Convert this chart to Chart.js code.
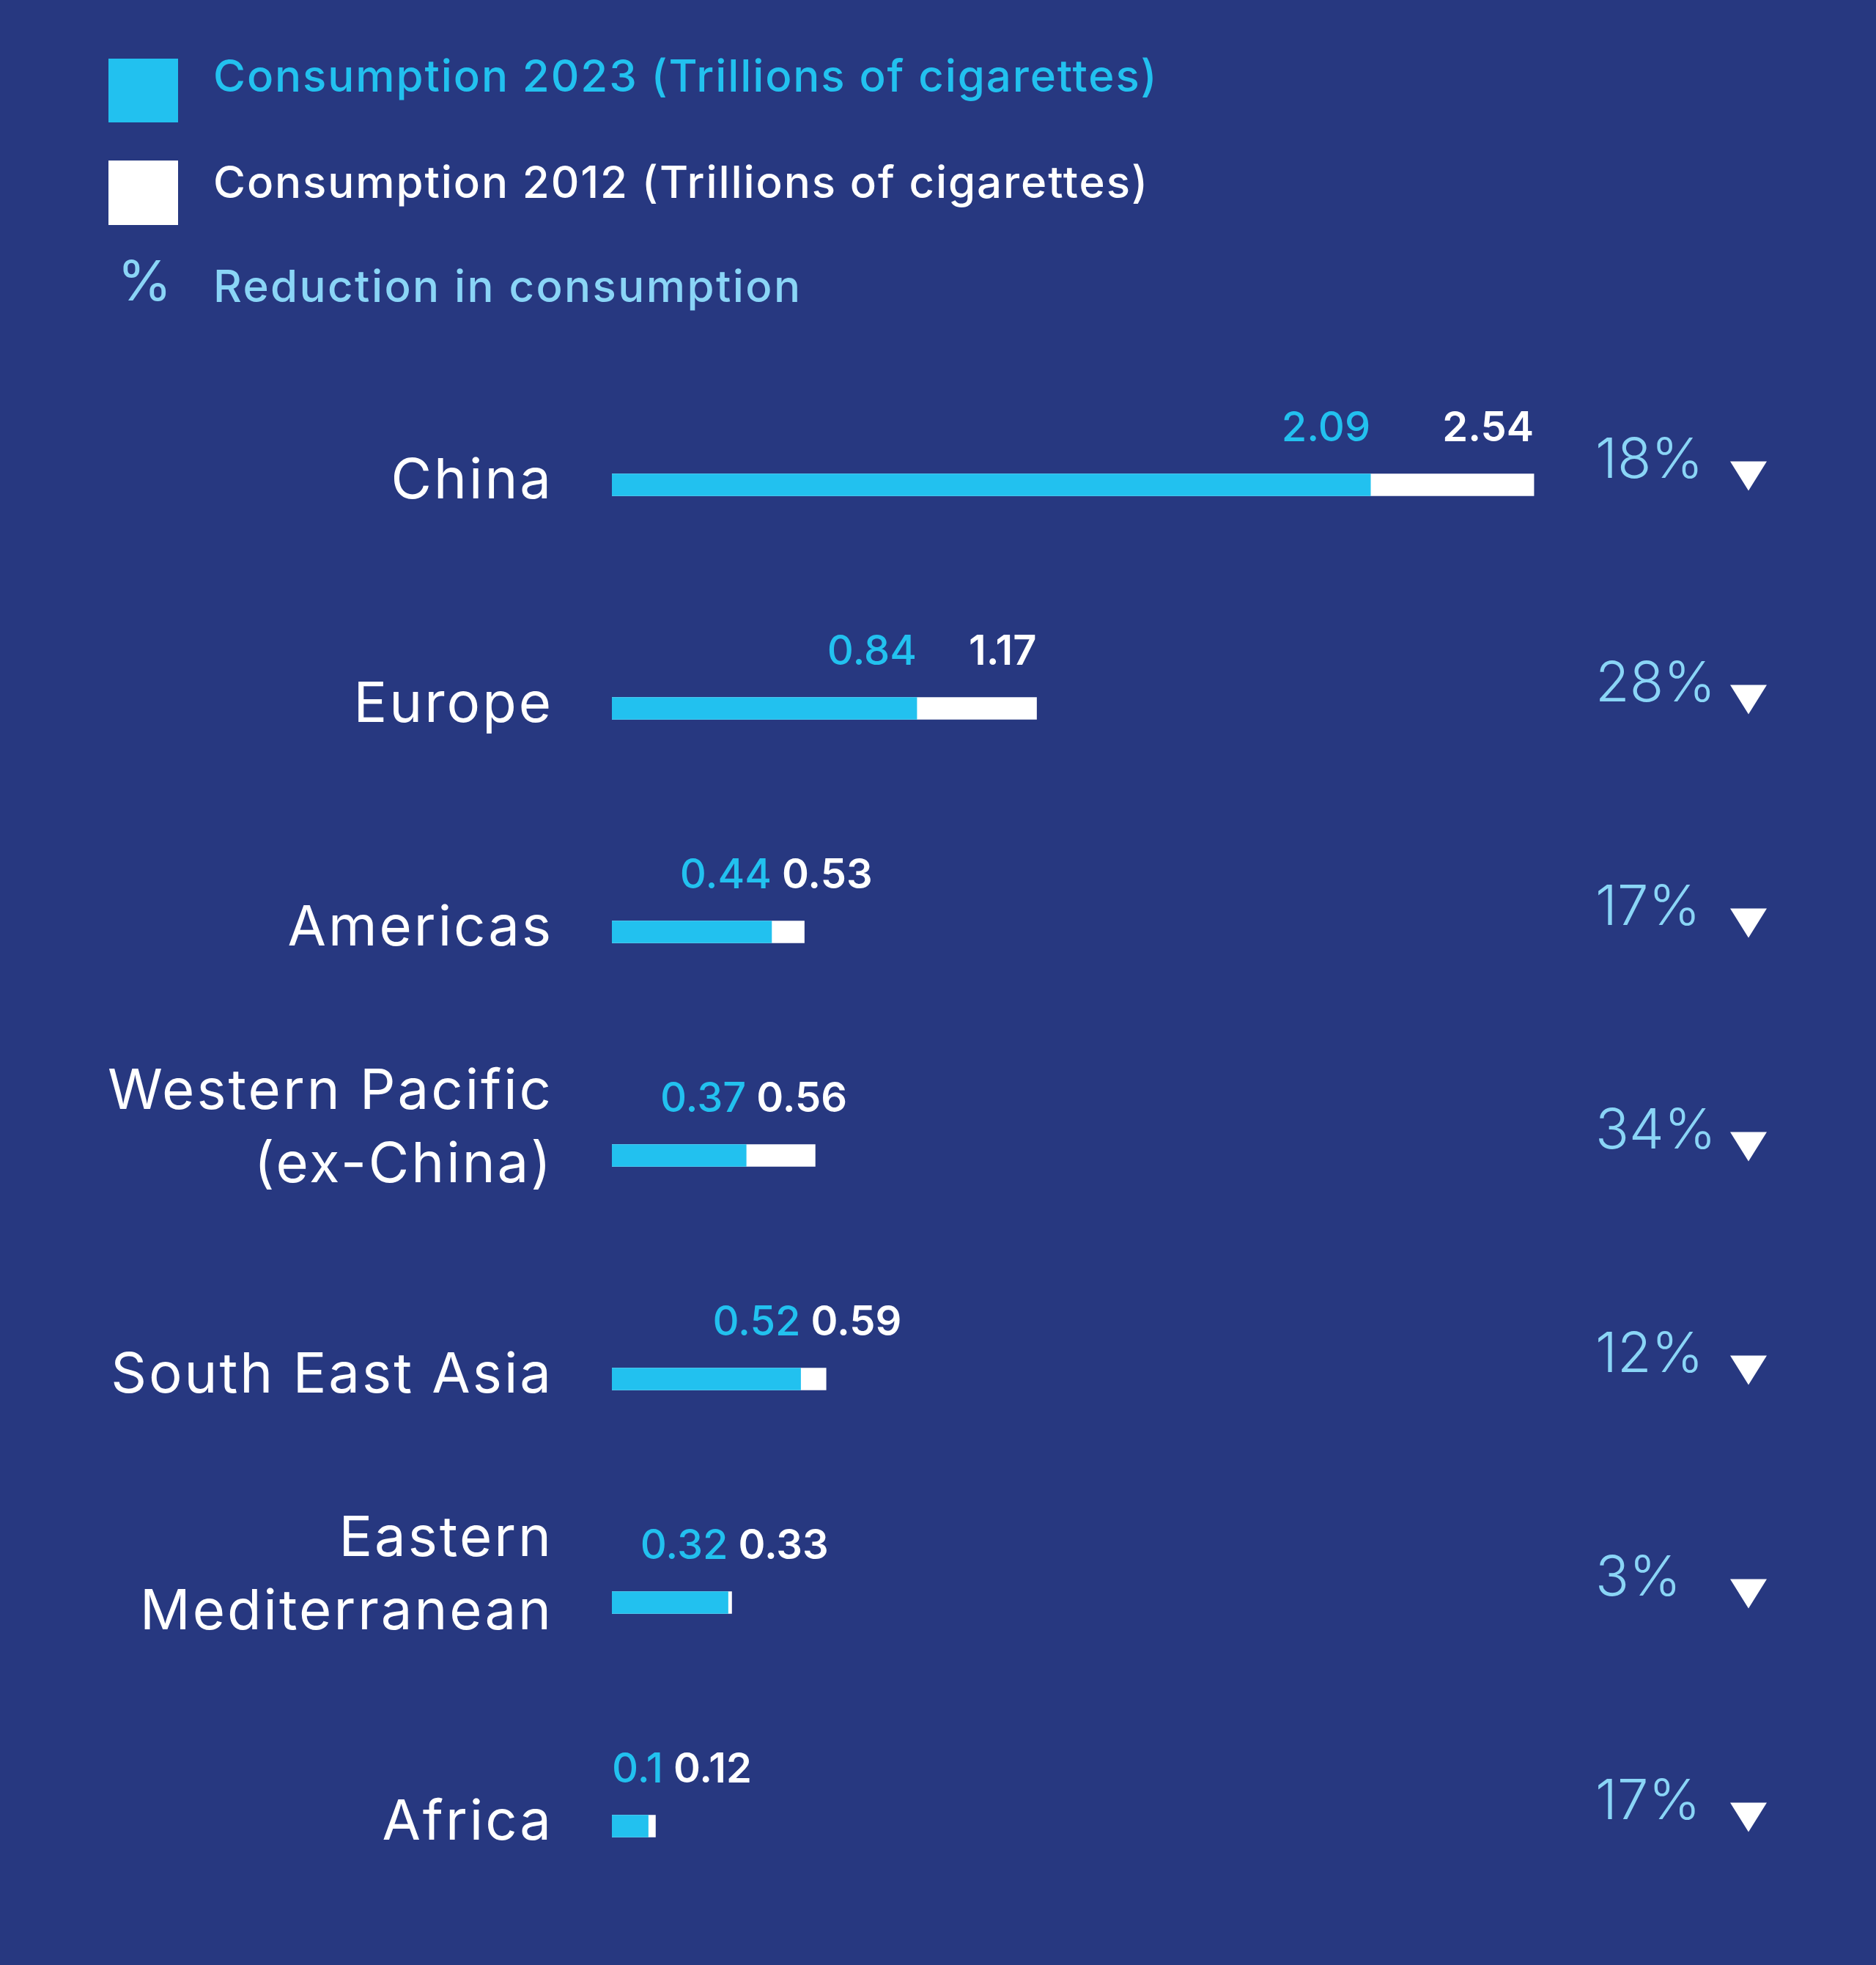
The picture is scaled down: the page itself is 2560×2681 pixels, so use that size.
<!DOCTYPE html>
<html>
<head>
<meta charset="utf-8">
<script src="https://cdn.jsdelivr.net/npm/chart.js@4.4.1/dist/chart.umd.min.js"></script>
<style>
  html, body { margin: 0; padding: 0; background: #273880; }
  #wrap { position: relative; width: 2560px; height: 2681px; }
</style>
</head>
<body>
<div id="wrap"><canvas id="chart"></canvas></div>
<script>
/* ── Data ─────────────────────────────────────────────────────────── */
const REGIONS          = [['China'], ['Europe'], ['Americas'], ['Western Pacific', '(ex-China)'], ['South East Asia'], ['Eastern', 'Mediterranean'], ['Africa']];
const CONSUMPTION_2023 = [2.09, 0.84, 0.44, 0.37, 0.52, 0.32, 0.1];
const CONSUMPTION_2012 = [2.54, 1.17, 0.53, 0.56, 0.59, 0.33, 0.12];
const REDUCTION_PCT    = [18, 28, 17, 34, 12, 3, 17];
const LEGEND_2023      = 'Consumption 2023 (Trillions of cigarettes)';
const LEGEND_2012      = 'Consumption 2012 (Trillions of cigarettes)';
const LEGEND_PCT       = 'Reduction in consumption';

const CYAN  = '#22c1ef';
const LIGHT = '#8ad5f6';
const WHITE = '#ffffff';
const FONT  = 'Inter, "Open Sans", sans-serif';

// Legend, category labels, value labels and % column, drawn on the canvas
const overlayPlugin = {
  id: 'overlay',
  afterDatasetsDraw(chart) {
    const { ctx, scales } = chart;
    const x = scales.x, y = scales.y;
    ctx.save();

    // ── Legend ──
    ctx.fillStyle = CYAN;  ctx.fillRect(148, 80, 95, 87);
    ctx.fillStyle = WHITE; ctx.fillRect(148, 219, 95, 88);
    ctx.textBaseline = 'alphabetic';
    ctx.textAlign = 'left';
    ctx.font = `500 60px ${FONT}`;
    ctx.letterSpacing = '1.9px';
    ctx.fillStyle = CYAN;  ctx.fillText(LEGEND_2023, 291, 125);
    ctx.fillStyle = WHITE; ctx.fillText(LEGEND_2012, 291, 270);
    ctx.letterSpacing = '2.4px';
    ctx.fillStyle = LIGHT; ctx.fillText(LEGEND_PCT, 291, 412);
    ctx.letterSpacing = '0px';
    ctx.font = `400 76px ${FONT}`;
    ctx.fillText('%', 160, 410);

    const x0 = x.getPixelForValue(0);
    REGIONS.forEach((lines, i) => {
      const cy = y.getPixelForValue(i);

      // Category label, right aligned; last line sits by the bar
      ctx.font = `400 76px ${FONT}`;
      ctx.letterSpacing = '3px';
      ctx.fillStyle = WHITE;
      ctx.textAlign = 'right';
      const lastBase = lines.length > 1 ? cy + 36 : cy + 18;
      lines.forEach((ln, k) => ctx.fillText(ln, 755, lastBase - (lines.length - 1 - k) * 100));
      ctx.letterSpacing = '0px';

      // Value labels above the bar ends, kept from overlapping
      const endA = x.getPixelForValue(CONSUMPTION_2023[i]);
      const endB = x.getPixelForValue(CONSUMPTION_2012[i]);
      const tA = String(CONSUMPTION_2023[i]);
      const tB = String(CONSUMPTION_2012[i]);
      ctx.textAlign = 'left';
      ctx.font = `500 56px ${FONT}`;
      const wA = ctx.measureText(tA).width;
      const leftA = Math.max(endA - wA, x0);
      ctx.fillStyle = CYAN;
      ctx.fillText(tA, leftA, cy - 60);
      ctx.font = `600 56px ${FONT}`;
      const wB = ctx.measureText(tB).width;
      const leftB = Math.max(endB - wB, leftA + wA + (endB - endA > wB ? 0 : 14));
      ctx.fillStyle = WHITE;
      ctx.fillText(tB, leftB, cy - 60);

      // Reduction %
      ctx.font = `300 76px ${FONT}`;
      ctx.fillStyle = LIGHT;
      ctx.fillText(REDUCTION_PCT[i] + '%', 2177, cy - 10);

      // Down triangle
      ctx.beginPath();
      ctx.moveTo(2361, cy - 32);
      ctx.lineTo(2411, cy - 32);
      ctx.lineTo(2386, cy + 8);
      ctx.closePath();
      ctx.fillStyle = WHITE;
      ctx.fill();
    });
    ctx.restore();
  },
};

new Chart(document.getElementById('chart').getContext('2d'), {
  type: 'bar',
  data: {
    labels: REGIONS,
    datasets: [
      { label: LEGEND_2023, data: CONSUMPTION_2023, backgroundColor: CYAN,  order: 1 },
      { label: LEGEND_2012, data: CONSUMPTION_2012, backgroundColor: WHITE, order: 2 },
    ],
  },
  options: {
    indexAxis: 'y',
    responsive: true,
    maintainAspectRatio: false,
    animation: false,
    layout: { padding: { top: 509, right: 140, bottom: 37, left: 835 } },
    datasets: { bar: { grouped: false, barThickness: 30, borderWidth: 0 } },
    plugins: { legend: { display: false }, tooltip: { enabled: false } },
    scales: {
      x: { display: false, min: 0, max: 3.2 },
      y: { display: false, offset: true, grid: { display: false } },
    },
  },
  plugins: [overlayPlugin],
});
</script>
</body>
</html>
